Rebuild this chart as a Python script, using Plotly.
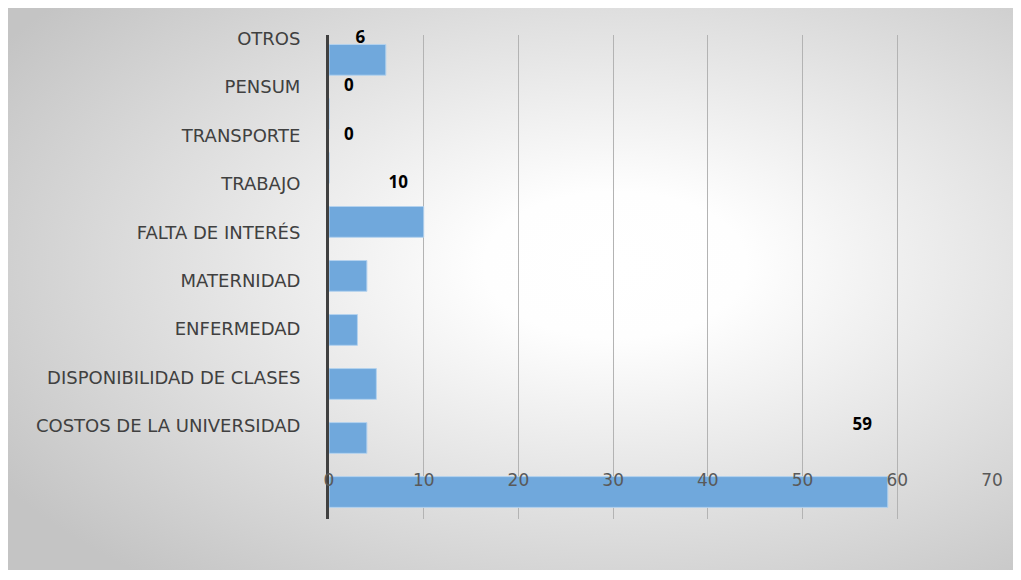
import base64
import plotly.graph_objects as go

categories = ["COSTOS DE LA UNIVERSIDAD", "DISPONIBILIDAD DE CLASES", "ENFERMEDAD",
              "MATERNIDAD", "FALTA DE INTERÉS", "TRABAJO", "TRANSPORTE", "PENSUM", "OTROS"]
values = [59, 4, 5, 3, 4, 10, 0, 0, 6]
x_ticks = [0, 10, 20, 30, 40, 50, 60, 70]

# page offset caused by the default body margin
OFF = 8
W, H = 1021, 580
L, R, T, B = 329 - OFF, 29 + OFF, 35 - OFF, 61 + OFF
pw, ph = W - L - R, H - T - B

idx = list(range(len(categories)))
label_x = [max(v - 2.7, 2.1) for v in values]

fig = go.Figure()
fig.add_trace(go.Bar(
    x=values, y=idx, orientation="h", yaxis="y2", width=0.57,
    marker=dict(color="#70a8dc", line=dict(color="#b4d2ee", width=1)),
    hoverinfo="skip", showlegend=False,
))
fig.add_trace(go.Scatter(
    x=label_x, y=idx, mode="text", text=[str(v) for v in values],
    textposition="middle center", cliponaxis=False,
    textfont=dict(family="Open Sans", size=17, color="#000000", weight="bold"),
    hoverinfo="skip", showlegend=False,
))

svg = ('<svg xmlns="http://www.w3.org/2000/svg" width="1014" height="565" viewBox="0 0 1014 565" '
       'preserveAspectRatio="none"><defs><radialGradient id="g" cx="0.6" cy="0.46" r="0.72">'
       '<stop offset="0" stop-color="#ffffff"/><stop offset="0.18" stop-color="#fefefe"/>'
       '<stop offset="1" stop-color="#c4c4c4"/></radialGradient></defs>'
       '<rect width="1014" height="565" fill="url(#g)"/></svg>')
src = "data:image/svg+xml;base64," + base64.b64encode(svg.encode()).decode()

# box in page pixels
bx0, by0, bx1, by1 = 7, 5, 1021, 570
px = lambda x: (x - OFF - L) / pw
py = lambda y: (T + ph - (y - OFF)) / ph

fig.update_layout(
    width=W, height=H,
    margin=dict(l=L, r=R, t=T, b=B),
    paper_bgcolor="white", plot_bgcolor="rgba(0,0,0,0)",
    showlegend=False,
    images=[dict(source=src, xref="paper", yref="paper", x=px(bx0), y=py(by0),
                 sizex=(bx1 - bx0) / pw, sizey=(by1 - by0) / ph, sizing="stretch",
                 xanchor="left", yanchor="top", layer="below")],
    shapes=[dict(type="line", xref="paper", yref="paper", x0=px(bx0), x1=px(bx1),
                 y0=py(by0), y1=py(by0), line=dict(color="#bfbfbf", width=2))],
    xaxis=dict(range=[0, 70], tickvals=x_ticks, showgrid=True, gridcolor="#b3b3b3",
               gridwidth=1.2, zeroline=False,
               showline=False, anchor="free", position=0.105, ticks="",
               tickfont=dict(family="DejaVu Sans", size=17, color="#595959")),
    yaxis=dict(range=[-1.92, 8.07], tickvals=idx, ticktext=categories, showgrid=False,
               zeroline=False, showline=True, linecolor="#404040", linewidth=3,
               layer="above traces",
               ticks="outside", ticklen=22, tickcolor="rgba(0,0,0,0)",
               tickfont=dict(family="DejaVu Sans", size=18, color="#404040")),
    yaxis2=dict(range=[-0.5, 8.46], overlaying="y", visible=False, showgrid=False,
                zeroline=False),
)

fig.write_html("out.html")
